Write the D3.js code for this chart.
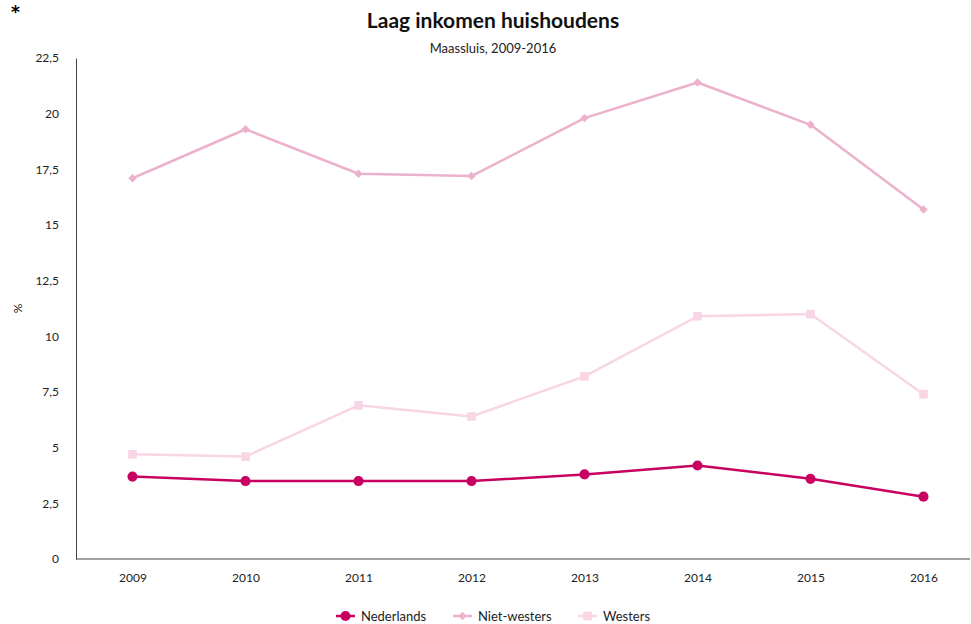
<!DOCTYPE html>
<html>
<head>
<meta charset="utf-8">
<script src="https://cdn.jsdelivr.net/npm/d3@7"></script>
<style>
  body { margin: 0; background: #fff; font-family: Lato, "Open Sans", sans-serif; }
  svg { display: block; }
</style>
</head>
<body>
<script>
// laag inkomen huishoudens chart
const width = 971;
const height = 624;
const margin = {top: 58, right: 1, bottom: 65, left: 76};

const years = ['2009', '2010', '2011', '2012', '2013', '2014', '2015', '2016'];
const yTicks = [0, 2.5, 5, 7.5, 10, 12.5, 15, 17.5, 20, 22.5];

const nederlands = [3.7, 3.5, 3.5, 3.5, 3.8, 4.2, 3.6, 2.8];
const nietWesters = [17.1, 19.3, 17.3, 17.2, 19.8, 21.4, 19.5, 15.7];
const westers = [4.7, 4.6, 6.9, 6.4, 8.2, 10.9, 11.0, 7.4];

const seriesNames = ['Nederlands', 'Niet-westers', 'Westers'];

const series = [
  {name: seriesNames[0], values: nederlands, color: '#c8005f', symbol: d3.symbolCircle, size: 80, rot: 0},
  {name: seriesNames[1], values: nietWesters, color: '#ecb2cd', symbol: d3.symbolSquare, size: 36, rot: 45},
  {name: seriesNames[2], values: westers, color: '#f8d6e5', symbol: d3.symbolSquare, size: 75, rot: 0}
];

const x = d3.scalePoint()
  .domain(years)
  .range([margin.left, 980])
  .padding(0.5);

const y = d3.scaleLinear()
  .domain([0, 22.5])
  .range([height - margin.bottom, margin.top]);

const fmt = d => String(d).replace('.', ',');

const svg = d3.select('body').append('svg')
  .attr('width', width)
  .attr('height', height);

svg.append('text')
  .attr('x', 11).attr('y', 18)
  .attr('font-family', 'DejaVu Sans')
  .attr('font-size', 17).attr('font-weight', 'bold')
  .text('*');

svg.append('text')
  .attr('x', 493).attr('y', 28)
  .attr('text-anchor', 'middle')
  .attr('font-size', 21).attr('font-weight', 'bold')
  .attr('fill', '#111')
  .text('Laag inkomen huishoudens');

svg.append('text')
  .attr('x', 493).attr('y', 53)
  .attr('text-anchor', 'middle')
  .attr('font-size', 13)
  .attr('fill', '#222')
  .text('Maassluis, 2009-2016');

// y axis
const yAxis = g => g
  .attr('transform', `translate(${margin.left},0)`)
  .call(d3.axisLeft(y).tickValues(yTicks).tickSize(0).tickPadding(17).tickFormat(fmt))
  .call(g => g.select('.domain').attr('stroke', '#444'))
  .call(g => g.selectAll('text').attr('font-size', 12).attr('fill', '#222').attr('font-family', 'Lato, sans-serif'));

const xAxis = g => g
  .attr('transform', `translate(0,${height - margin.bottom})`)
  .call(d3.axisBottom(x).tickSize(0).tickPadding(14))
  .call(g => g.select('.domain').remove())
  .call(g => g.selectAll('text').attr('font-size', 12).attr('fill', '#222').attr('font-family', 'Lato, sans-serif'));

svg.append('g').call(yAxis);
svg.append('g').call(xAxis);

svg.append('line')
  .attr('x1', margin.left).attr('x2', width - margin.right)
  .attr('y1', y(0)).attr('y2', y(0))
  .attr('stroke', '#444');

svg.append('text')
  .attr('transform', `translate(22,${(y(0) + y(22.5)) / 2}) rotate(-90)`)
  .attr('text-anchor', 'middle')
  .attr('font-size', 12)
  .attr('fill', '#222')
  .text('%');

const line = d3.line()
  .x((d, i) => x(years[i]))
  .y(d => y(d));

// draw back to front so Nederlands sits on top
for (const s of series.slice().reverse()) {
  svg.append('path')
    .datum(s.values)
    .attr('fill', 'none')
    .attr('stroke', s.color)
    .attr('stroke-width', 2.5)
    .attr('stroke-linejoin', 'round')
    .attr('d', line);

  svg.append('g').selectAll('path')
    .data(s.values)
    .join('path')
    .attr('transform', (d, i) => `translate(${x(years[i])},${y(d)}) rotate(${s.rot})`)
    .attr('d', d3.symbol(s.symbol, s.size))
    .attr('fill', s.color);
}

// legend
const legendX = [336, 453, 578];
const legend = svg.append('g');
series.forEach((s, i) => {
  const g = legend.append('g').attr('transform', `translate(${legendX[i]},616)`);
  g.append('line').attr('x1', 0).attr('x2', 19).attr('stroke', s.color).attr('stroke-width', 2.5);
  g.append('path').attr('transform', `translate(9.5,0) rotate(${s.rot})`).attr('d', d3.symbol(s.symbol, s.size)).attr('fill', s.color);
  g.append('text').attr('x', 25).attr('y', 4.5).attr('font-size', 13).attr('fill', '#222').text(s.name);
});
</script>
</body>
</html>
